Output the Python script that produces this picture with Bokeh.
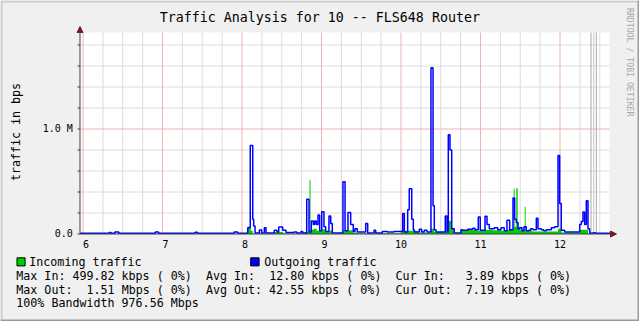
import re
from math import pi

from bokeh.plotting import figure
from bokeh.models import (Range1d, Label, Arrow, NormalHead, BoxAnnotation, ColumnDataSource)
from bokeh.embed import file_html
from bokeh.resources import INLINE

# ------------------------------------------------------------------ data
# time of day (hours) where a new sample value starts, traffic in bits/s
out_hours = [5.962, 6.330, 6.355, 6.400, 6.450, 6.910, 6.950, 7.410, 7.440, 7.900, 7.945,
             8.072, 8.104, 8.135, 8.147, 8.164, 8.218, 8.248, 8.281, 8.302, 8.406, 8.440,
             8.462, 8.512, 8.553, 8.654, 8.688, 8.742, 8.764,
             8.814, 8.843, 8.872, 8.897, 8.914, 8.935, 8.956, 8.977, 9.003, 9.031, 9.053,
             9.094, 9.116, 9.136,
             9.270, 9.296, 9.333, 9.367, 9.400, 9.421, 9.450, 9.556, 9.581, 9.660, 9.682,
             9.765, 9.828, 9.912,
             10.021, 10.042, 10.084, 10.104, 10.135, 10.155, 10.167, 10.230, 10.260, 10.293,
             10.327, 10.377, 10.403, 10.419, 10.440, 10.557, 10.579, 10.595, 10.616, 10.638,
             10.670, 10.755, 10.776, 10.839, 10.902, 10.931, 10.972, 10.997, 11.057, 11.082,
             11.111, 11.174, 11.216, 11.258, 11.299,
             11.333, 11.367, 11.409, 11.430, 11.450, 11.472, 11.493, 11.522, 11.547, 11.576,
             11.606, 11.631, 11.660, 11.702, 11.723, 11.765, 11.795, 11.828, 11.891, 11.933,
             11.975, 11.996, 12.016, 12.059,
             12.248, 12.268, 12.289, 12.310, 12.331, 12.352, 12.373, 12.415, 12.444, 12.629]
out_bps = [8000, 14000, 8000, 20000, 8000, 20000, 8000, 16000, 8000, 20000, 8000,
           60000, 843000, 140000, 77000, 10000, 38000, 10000, 60000, 10000, 35000, 20000,
           67000, 35000, 15000, 20000, 10000, 25000, 10000,
           332000, 20000, 125000, 90000, 125000, 90000, 180000, 30000, 213000, 70000, 25000,
           172000, 100000, 10000,
           498000, 30000, 205000, 90000, 25000, 50000, 20000, 100000, 10000, 35000, 10000,
           25000, 20000, 25000,
           195000, 20000, 230000, 430000, 140000, 40000, 20000, 45000, 20000, 35000,
           20000, 1583000, 270000, 40000, 20000, 172000, 20000, 945000, 800000, 50000,
           10000, 40000, 35000, 45000, 55000, 40000, 163000, 35000, 170000, 90000,
           50000, 60000, 40000, 60000, 30000,
           130000, 40000, 342000, 140000, 110000, 50000, 60000, 30000, 70000, 30000,
           35000, 50000, 40000, 150000, 50000, 40000, 30000, 40000, 60000, 70000,
           747000, 290000, 35000, 20000,
           90000, 120000, 210000, 90000, 316000, 50000, 8000, 12000, 8000, 8000]

in_hours = [5.962, 8.072, 8.110, 8.135, 8.210, 8.250, 8.400, 8.520, 8.790, 8.849,
            8.862, 8.900, 8.940, 9.000, 9.050, 9.100, 9.136, 9.270, 9.400, 9.450,
            10.000, 10.200, 10.377, 10.420, 10.595, 10.638, 10.660, 10.680, 10.750, 10.850,
            10.950, 11.050, 11.150, 11.250, 11.333, 11.417, 11.430, 11.450, 11.468, 11.500,
            11.556, 11.568, 11.650, 11.975, 12.020, 12.248, 12.352, 12.629]
in_bps = [2000, 70000, 30000, 5000, 12000, 5000, 20000, 5000, 20000, 512000,
          40000, 50000, 30000, 45000, 20000, 30000, 8000, 35000, 15000, 8000,
          30000, 15000, 50000, 20000, 125000, 60000, 30000, 8000, 35000, 40000,
          30000, 40000, 35000, 30000, 40000, 430000, 70000, 435000, 60000, 40000,
          259000, 30000, 25000, 50000, 15000, 40000, 3000, 3000]

hour_ticks = [6, 7, 8, 9, 10, 11, 12]
hour_labels = ["6", "7", "8", "9", "10", "11", "12"]
hour_minor = [h + q for h in range(6, 13) for q in (0.25, 0.5, 0.75)]
y_ticks = [0, 1000000]
y_labels = ["0.0", "1.0 M"]
y_minor = [200000, 400000, 600000, 800000, 1200000, 1400000, 1600000, 1800000]
vrule_hours = [12.390, 12.424, 12.457]

title_text = "Traffic Analysis for 10 -- FLS648 Router"
y_title = "traffic in bps"
side_text = "RRDTOOL / TOBI OETIKER"
legend_names = ["Incoming traffic", "Outgoing traffic"]
stat_lines = [
    "Max In: 499.82 kbps ( 0%)  Avg In:  12.80 kbps ( 0%)  Cur In:   3.89 kbps ( 0%)",
    "Max Out:  1.51 Mbps ( 0%)  Avg Out: 42.55 kbps ( 0%)  Cur Out:  7.19 kbps ( 0%)",
    "100% Bandwidth 976.56 Mbps",
]

assert len(out_hours) == len(out_bps) and len(in_hours) == len(in_bps)

# ------------------------------------------------------------------ layout / style
W, H = 639, 321
FL, FR, FT, FB = 79.5, 609, 32, 233.5       # graph area edges in pixels
PX_HOUR, PX_MEG = 79.5, 105.0               # pixels per hour / per 1e6 bps


def hx(px):   # pixel column -> hours
    return 6 + (px - 82.5) / PX_HOUR


def vy(py):   # pixel row -> bps
    return (FB - py) / PX_MEG * 1e6


MONO = "DejaVu Sans Mono"
BG = "#F0F0F0"
IN_C, OUT_C = "#00CC00", "#0000FF"
AXIS_C, ARROW_C = "#404040", "#801818"
MAJOR_C, MINOR_C = "#F3B0B0", "#DCDCDC"
TEXT_PX = 11.67
CHAR_W = 7.024
BASE_FIX = 0.35      # baseline correction, fraction of the font size

# the frame covers the whole canvas; the graph area is drawn inside it
p = figure(width=W, height=H, x_range=Range1d(hx(0), hx(W)), y_range=Range1d(vy(H), vy(0)),
           output_backend="svg", toolbar_location=None, title=None,
           x_axis_location=None, y_axis_location=None,
           min_border=0, min_border_left=0, min_border_right=0, min_border_top=0,
           min_border_bottom=0, border_fill_color=BG,
           background_fill_color=BG, outline_line_color=None)
p.xgrid.visible = False
p.ygrid.visible = False

X0, X1, YTOP = hx(FL), hx(FR), vy(FT)

# white graph area
p.add_layout(BoxAnnotation(left=X0, right=X1, bottom=0, top=YTOP, fill_color="white",
                           fill_alpha=1, line_color=None, level="underlay"))

# grid
minor_x = [h for h in hour_minor if X0 < h < X1]
p.segment(x0=minor_x, y0=0, x1=minor_x, y1=YTOP, line_color=MINOR_C, line_width=1)
p.segment(x0=X0, y0=y_minor, x1=X1, y1=y_minor, line_color=MINOR_C, line_width=1)
p.segment(x0=hour_ticks, y0=0, x1=hour_ticks, y1=YTOP, line_color=MAJOR_C, line_width=1)
p.segment(x0=X0, y0=y_ticks[1:], x1=X1, y1=y_ticks[1:], line_color=MAJOR_C, line_width=1)
p.segment(x0=vrule_hours, y0=0, x1=vrule_hours, y1=YTOP,
          line_color=["#A8A8A8", "#C8C8C8", "#A8A8A8"], line_width=1)

# y ticks
p.segment(x0=hx(FL - 2.5), y0=y_minor + y_ticks, x1=X0, y1=y_minor + y_ticks,
          line_color=AXIS_C, line_width=1)

# traffic
src_in = ColumnDataSource(dict(h=in_hours, bps=in_bps))
src_out = ColumnDataSource(dict(h=out_hours, bps=out_bps))
p.varea_step(x="h", y1=0, y2="bps", step_mode="after", fill_color=IN_C, source=src_in)
p.step(x="h", y="bps", mode="after", line_color=OUT_C, line_width=1.5, source=src_out)

# axes with arrows
p.add_layout(Arrow(x_start=X0, y_start=0, x_end=hx(616), y_end=0,
                   line_color=AXIS_C, line_width=1,
                   end=NormalHead(size=6, fill_color=ARROW_C, line_color=ARROW_C)))
p.add_layout(Arrow(x_start=X0, y_start=0, x_end=X0, y_end=vy(26),
                   line_color=AXIS_C, line_width=1,
                   end=NormalHead(size=6, fill_color=ARROW_C, line_color=ARROW_C)))


def text(px, py, s, size=TEXT_PX, align="left", angle=0.0, color="black"):
    """Place text with its alphabetic baseline at pixel (px, py)."""
    fix = BASE_FIX * size
    if angle == 0:
        py -= fix
    elif angle > 0:
        px -= fix
    else:
        px += fix
    p.add_layout(Label(x=hx(px), y=vy(py), text=s, angle=angle,
                       text_align=align, text_baseline="alphabetic", text_font=MONO,
                       text_font_size=f"{size}px", text_color=color))


def tick_label(h, py, s, size, x_offset):
    p.add_layout(Label(x=h, y=vy(py - BASE_FIX * size), text=s, x_offset=x_offset,
                       text_align="center", text_baseline="alphabetic", text_font=MONO,
                       text_font_size=f"{size}px", text_color="black"))


# tick labels (single digits printed right-aligned in two columns, like rrdtool)
for h, lab in zip(hour_ticks, hour_labels):
    tick_label(h, 247, lab, 10, 3 if len(lab) == 1 else 0)
for v, lab, base in zip(y_ticks, y_labels, [236.2, 131.2]):
    text(72.3, base, lab, size=10, align="right")

# titles
text(319.3, 21.5, title_text, size=13.3, align="center")
text(20, 131.5, y_title, align="center", angle=pi / 2)
text(626.4, 61.7, side_text, size=8.2, align="center", angle=-pi / 2, color="#A8A8A8")

# legend
for (bx0, bx1, tx), name, col in zip([(16.5, 24.6, 28.8), (250.2, 258.6, 263.7)],
                                     legend_names, [IN_C, OUT_C]):
    p.add_layout(BoxAnnotation(left=hx(bx0), right=hx(bx1), top=vy(257.3), bottom=vy(265.4),
                               fill_color=col, fill_alpha=1, line_color="black",
                               line_width=1, line_alpha=1))
    text(tx, 265.3, name)

# statistics lines, each run of text placed on its monospace column
for line, base in zip(stat_lines, [279.2, 293.2, 307.0]):
    for m in re.finditer(r"\S+(?: \S+)*", line):
        text(15.8 + m.start() * CHAR_W, base, m.group(0))

# rrdtool style shaded image border
for l, r, t, b, c in [(0, W, 0, 2, "#CBCBCB"), (0, 2, 0, H, "#CBCBCB"),
                      (W - 2, W, 0, H, "#999999"), (0, W, H - 2, H, "#999999")]:
    p.add_layout(BoxAnnotation(left=hx(l), right=hx(r), top=vy(t), bottom=vy(b),
                               fill_color=c, fill_alpha=1, line_color=None))

open("out.html", "w").write(file_html(p, INLINE))
